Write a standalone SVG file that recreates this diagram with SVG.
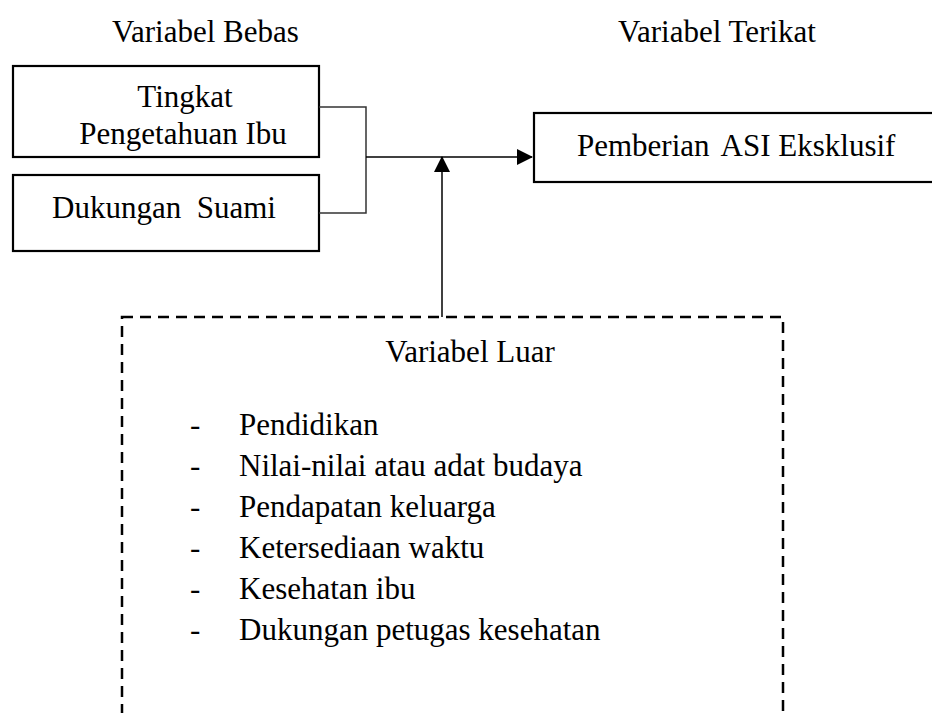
<svg xmlns="http://www.w3.org/2000/svg" width="932" height="713" viewBox="0 0 932 713">
<style>
  text { font-family: "Liberation Serif", "Times New Roman", serif; font-size: 31px; fill: #000; }
  .box { fill: #fff; stroke: #000; stroke-width: 2.2; }
  .dash { fill: none; stroke: #000; stroke-width: 2.5; stroke-dasharray: 11 7; }
  .conn { fill: none; stroke: #333; stroke-width: 1.5; }
  .arr { fill: none; stroke: #000; stroke-width: 1.5; }
</style>
<defs>
  <marker id="ah" viewBox="0 0 16 16" refX="15" refY="8" markerWidth="16" markerHeight="16" markerUnits="userSpaceOnUse" orient="auto">
    <path d="M0,0 L16,8 L0,16 Z" fill="#000"/>
  </marker>
</defs>
<rect width="932" height="713" fill="#fff"/>

<text x="112" y="42">Variabel Bebas</text>
<text x="618" y="42">Variabel Terikat</text>

<g id="node-tingkat">
  <rect class="box" x="13" y="66" width="306" height="91"/>
  <text x="185" y="107" text-anchor="middle">Tingkat</text>
  <text x="183" y="144" text-anchor="middle">Pengetahuan Ibu</text>
</g>

<g id="node-dukungan">
  <rect class="box" x="13" y="175" width="306" height="76"/>
  <text x="52" y="218" xml:space="preserve">Dukungan  Suami</text>
</g>

<g id="node-asi">
  <rect class="box" x="534" y="113" width="410" height="69"/>
  <text x="577" y="156">Pemberian <tspan dx="5">ASI Eksklusif</tspan></text>
</g>

<g id="node-luar">
  <rect class="dash" x="122" y="317" width="661" height="420"/>
  <text x="470" y="362" text-anchor="middle">Variabel Luar</text>
  <g id="list">
    <text x="190" y="435">-</text><text x="239" y="435">Pendidikan</text>
    <text x="190" y="476">-</text><text x="239" y="476">Nilai-nilai atau adat budaya</text>
    <text x="190" y="517">-</text><text x="239" y="517">Pendapatan keluarga</text>
    <text x="190" y="558">-</text><text x="239" y="558">Ketersediaan waktu</text>
    <text x="190" y="599">-</text><text x="239" y="599">Kesehatan ibu</text>
    <text x="190" y="640">-</text><text x="239" y="640">Dukungan petugas kesehatan</text>
  </g>
</g>

<g id="connectors">
  <polyline class="conn" points="319,107 366,107 366,213 319,213"/>
  <line class="arr" x1="366" y1="157" x2="532" y2="157" marker-end="url(#ah)"/>
  <line class="arr" x1="442" y1="317" x2="442" y2="157" marker-end="url(#ah)"/>
</g>
</svg>
